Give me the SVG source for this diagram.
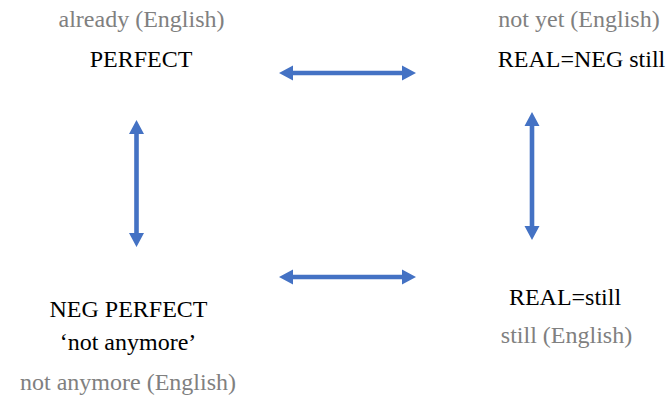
<svg xmlns="http://www.w3.org/2000/svg" width="672" height="396" viewBox="0 0 672 396">
  <style>
    .term { fill: #000000; }
    .gloss { fill: #808080; }
    .link { fill: #4472C4; stroke: none; }
  </style>

  <rect width="672" height="396" fill="#ffffff"/>

  <!-- double-headed links between the four cells -->
  <g id="connectors">
    <path class="link" d="M279,73 L293,65.5 L293,70.7 L402,70.7 L402,65.5 L416,73 L402,80.5 L402,75.3 L293,75.3 L293,80.5 Z"/>
    <path class="link" d="M279,277 L293,269.5 L293,274.7 L402,274.7 L402,269.5 L416,277 L402,284.5 L402,279.3 L293,279.3 L293,284.5 Z"/>
    <path class="link" d="M136.5,120 L144,134 L138.8,134 L138.8,233 L144,233 L136.5,247 L129,233 L134.2,233 L134.2,134 L129,134 Z"/>
    <path class="link" d="M532,112 L539.5,126 L534.3,126 L534.3,226 L539.5,226 L532,240 L524.5,226 L529.7,226 L529.7,126 L524.5,126 Z"/>
  </g>

  <g id="perfect">
    <text class="gloss" x="141.5" y="27" font-family="Liberation Serif, Times New Roman, DejaVu Serif, serif" font-size="24" text-anchor="middle">already (English)</text>
    <text class="term" x="141" y="67" font-family="Liberation Serif, Times New Roman, DejaVu Serif, serif" font-size="24" text-anchor="middle">PERFECT</text>
  </g>

  <g id="real-neg-still">
    <text class="gloss" x="579" y="27" font-family="Liberation Serif, Times New Roman, DejaVu Serif, serif" font-size="24" text-anchor="middle">not yet (English)</text>
    <text class="term" x="581.5" y="67" font-family="Liberation Serif, Times New Roman, DejaVu Serif, serif" font-size="24" text-anchor="middle">REAL=NEG still</text>
  </g>

  <g id="neg-perfect">
    <text class="term" x="128.5" y="317" font-family="Liberation Serif, Times New Roman, DejaVu Serif, serif" font-size="24" text-anchor="middle">NEG PERFECT</text>
    <text class="term" x="128" y="350" font-family="Liberation Serif, Times New Roman, DejaVu Serif, serif" font-size="24" text-anchor="middle">‘not anymore’</text>
    <text class="gloss" x="128" y="390" font-family="Liberation Serif, Times New Roman, DejaVu Serif, serif" font-size="24" text-anchor="middle">not anymore (English)</text>
  </g>

  <g id="real-still">
    <text class="term" x="565" y="305" font-family="Liberation Serif, Times New Roman, DejaVu Serif, serif" font-size="24" text-anchor="middle">REAL=still</text>
    <text class="gloss" x="566.5" y="343" font-family="Liberation Serif, Times New Roman, DejaVu Serif, serif" font-size="24" text-anchor="middle">still (English)</text>
  </g>
</svg>
